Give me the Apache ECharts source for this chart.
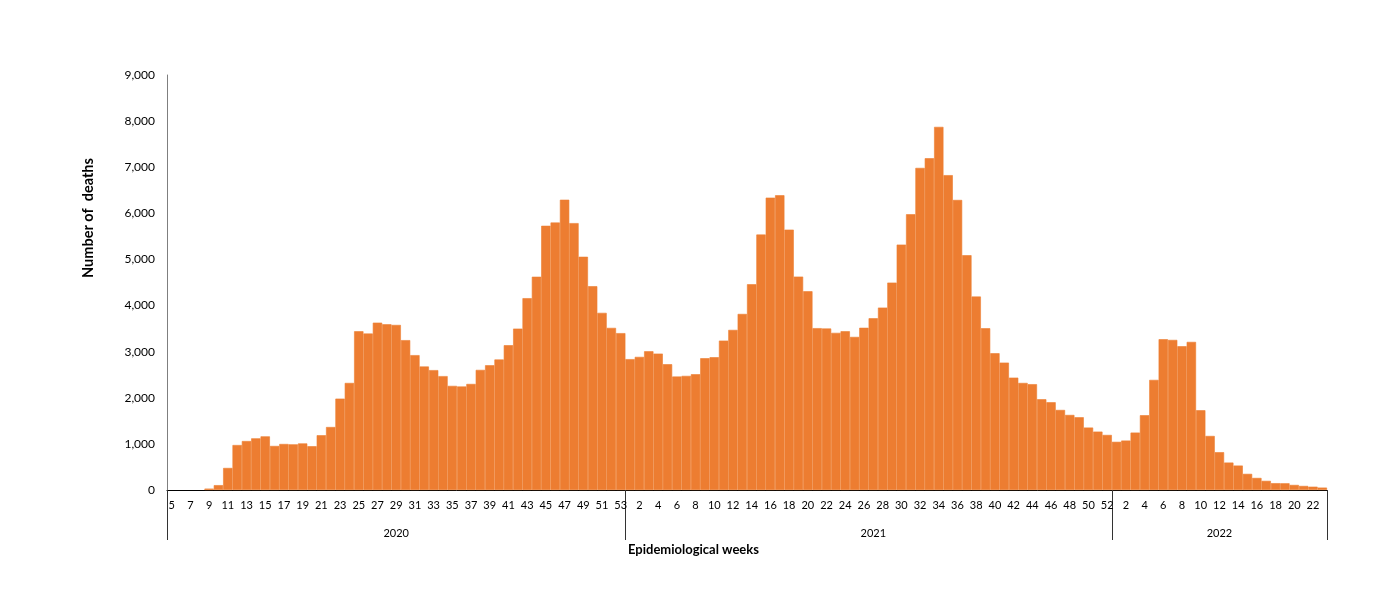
<!DOCTYPE html>
<html>
<head>
<meta charset="utf-8">
<script src="https://cdn.jsdelivr.net/npm/echarts@6/dist/echarts.min.js"></script>
<style>html,body{margin:0;padding:0;background:#fff}#c{width:1400px;height:604px}</style>
</head>
<body>
<div id="c"></div>
<script>
// Weekly deaths by epidemiological week
const weeks2020 = [5,6,7,8,9,10,11,12,13,14,15,16,17,18,19,20,21,22,23,24,25,26,27,28,29,30,31,32,33,34,35,36,37,38,39,40,41,42,43,44,45,46,47,48,49,50,51,52,53];
const deaths2020 = [0,0,0,0,30,105,478,975,1062,1120,1163,955,998,990,1010,950,1188,1366,1982,2322,3442,3393,3629,3593,3580,3250,2925,2678,2600,2470,2258,2244,2300,2605,2705,2830,3140,3500,4160,4625,5730,5800,6295,5788,5058,4420,3842,3516,3402];
const weeks2021 = [1,2,3,4,5,6,7,8,9,10,11,12,13,14,15,16,17,18,19,20,21,22,23,24,25,26,27,28,29,30,31,32,33,34,35,36,37,38,39,40,41,42,43,44,45,46,47,48,49,50,51,52];
const deaths2021 = [2838,2887,3008,2958,2728,2460,2475,2510,2858,2880,3240,3472,3818,4462,5540,6340,6392,5646,4628,4310,3510,3502,3408,3442,3320,3518,3724,3956,4498,5322,5980,6985,7195,7875,6828,6290,5092,4195,3508,2966,2763,2437,2322,2295,1968,1903,1736,1628,1578,1354,1266,1194];
const weeks2022 = [1,2,3,4,5,6,7,8,9,10,11,12,13,14,15,16,17,18,19,20,21,22,23];
const deaths2022 = [1045,1072,1245,1622,2388,3270,3255,3118,3212,1730,1172,820,595,530,350,262,198,148,146,110,88,72,52];
const years = ['2020','2021','2022'];
const yTicks = [0,1000,2000,3000,4000,5000,6000,7000,8000,9000];

const categories = [].concat(weeks2020.map(String), weeks2021.map(String), weeks2022.map(String));
const values = [].concat(deaths2020, deaths2021, deaths2022);
const barData = values.map(v => v > 0 ? v : { value: v, itemStyle: { borderWidth: 0 } });
const b1 = weeks2020.length, b2 = b1 + weeks2021.length, b3 = b2 + weeks2022.length;
const boundaries = [0, b1, b2, b3];
const yearCats = categories.map((c, i) => {
  if (i === Math.floor(b1 / 2)) return years[0];
  if (i === b1 + Math.floor(weeks2021.length / 2)) return years[1];
  if (i === b2 + Math.floor(weeks2022.length / 2)) return years[2];
  return '';
});

const FONT = 'Lato, "Open Sans", sans-serif';
const chart = echarts.init(document.getElementById('c'));
chart.setOption({
  animation: false,
  grid: { left: 167, right: 73, top: 75, bottom: 114, containLabel: false },
  xAxis: [{
    type: 'category',
    data: categories,
    boundaryGap: true,
    axisLine: { show: true, lineStyle: { color: '#000', width: 1 } },
    axisTick: { show: true, length: 50, interval: (i) => boundaries.indexOf(i) >= 0, lineStyle: { color: '#333' } },
    axisLabel: { interval: 1, color: '#000', fontSize: 11, fontFamily: FONT, margin: 10 },
    splitLine: { show: false }
  }, {
    type: 'category',
    data: yearCats,
    position: 'bottom',
    offset: 34,
    axisLine: { show: false },
    axisTick: { show: false },
    axisLabel: { interval: 0, color: '#000', fontSize: 11, fontFamily: FONT, margin: 4 },
    splitLine: { show: false }
  }],
  yAxis: {
    type: 'value',
    min: yTicks[0], max: yTicks[yTicks.length - 1], interval: 1000,
    axisLine: { show: true, lineStyle: { color: '#7f7f7f', width: 1 } },
    axisTick: { show: false },
    splitLine: { show: false },
    axisLabel: { color: '#000', fontSize: 12, fontFamily: FONT, margin: 12,
      formatter: (v) => v.toLocaleString('en-US') }
  },
  series: [{
    type: 'bar',
    data: barData,
    xAxisIndex: 0,
    barCategoryGap: '0%',
    itemStyle: { color: '#ED7D31', borderColor: '#ED7D31', borderWidth: 0.6 }
  }],
  graphic: [{
    type: 'text', left: 628, top: 543,
    style: { text: 'Epidemiological weeks', font: 'bold 13px ' + FONT, fill: '#000' }
  }, {
    type: 'text', x: 88, y: 218, rotation: Math.PI / 2,
    style: { text: 'Number of  deaths', font: 'bold 14.5px ' + FONT, fill: '#000', align: 'center', verticalAlign: 'middle' }
  }]
});
</script>
</body>
</html>
